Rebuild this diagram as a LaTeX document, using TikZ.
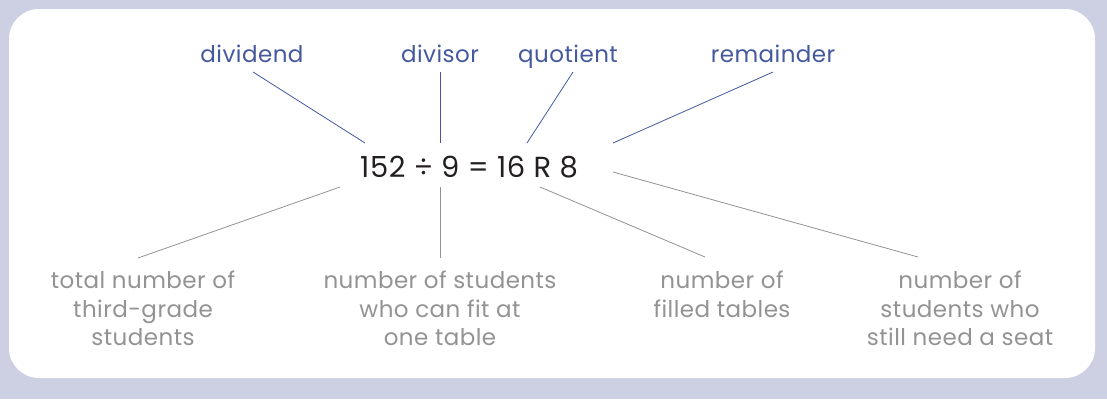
\documentclass[tikz,border=0pt]{standalone}
\usepackage{fontspec}
\setmainfont[LetterSpace=2]{Poppins}
\definecolor{backcol}{HTML}{CDD0E3}
\definecolor{termcol}{HTML}{44599E}
\definecolor{notecol}{HTML}{939393}
\definecolor{eqcol}{HTML}{231F20}
\begin{document}
\begin{tikzpicture}[x=1pt, y=-1pt,
  term/.style={text=termcol, font=\fontsize{23}{28}\selectfont, inner sep=0pt, anchor=base},
  note/.style={text=notecol, font=\fontsize{23}{28.5}\selectfont, inner sep=0pt, anchor=north, align=center},
  toline/.style={draw=termcol, line width=0.8pt},
  botline/.style={draw=notecol, line width=0.8pt}]
\fill[backcol] (0,0) rectangle (1107,399);
\fill[white, rounded corners=30pt] (9,9) rectangle (1095,378);
\useasboundingbox (0,0) rectangle (1107,399);
% equation
\node[text=eqcol, font=\fontsize{29}{34}\selectfont, inner sep=0pt, anchor=base west] (eq) at (360,177) {152 ÷ 9 = 16 R 8};
% names of the parts
\node[term] (dividend) at (252,62) {dividend};
\node[term] (divisor) at (440,62) {divisor};
\node[term] (quotient) at (568,62) {quotient};
\node[term] (remainder) at (773,62) {remainder};
\coordinate (d1) at (253,72); \coordinate (d2) at (365,143);
\coordinate (v1) at (440,72); \coordinate (v2) at (440,143);
\coordinate (q1) at (573,72); \coordinate (q2) at (527,143);
\coordinate (r1) at (773,72); \coordinate (r2) at (613,143);
\draw[toline] (d1) -- (d2);
\draw[toline] (v1) -- (v2);
\draw[toline] (q1) -- (q2);
\draw[toline] (r1) -- (r2);
% what they mean
\node[note] (total) at (143,271) {total number of\\third-grade\\students};
\node[note] (pertable) at (440,271) {number of students\\who can fit at\\one table};
\node[note] (filled) at (722,271) {number of\\filled tables};
\node[note] (left) at (960,271) {number of\\students who\\still need a seat};
\coordinate (t1) at (340,187); \coordinate (t2) at (138,258);
\coordinate (p1) at (440,187); \coordinate (p2) at (440,258);
\coordinate (f1) at (540,187); \coordinate (f2) at (705,257);
\coordinate (l1) at (613,172); \coordinate (l2) at (918,257);
\draw[botline] (t1) -- (t2);
\draw[botline] (p1) -- (p2);
\draw[botline] (f1) -- (f2);
\draw[botline] (l1) -- (l2);
\end{tikzpicture}
\end{document}
